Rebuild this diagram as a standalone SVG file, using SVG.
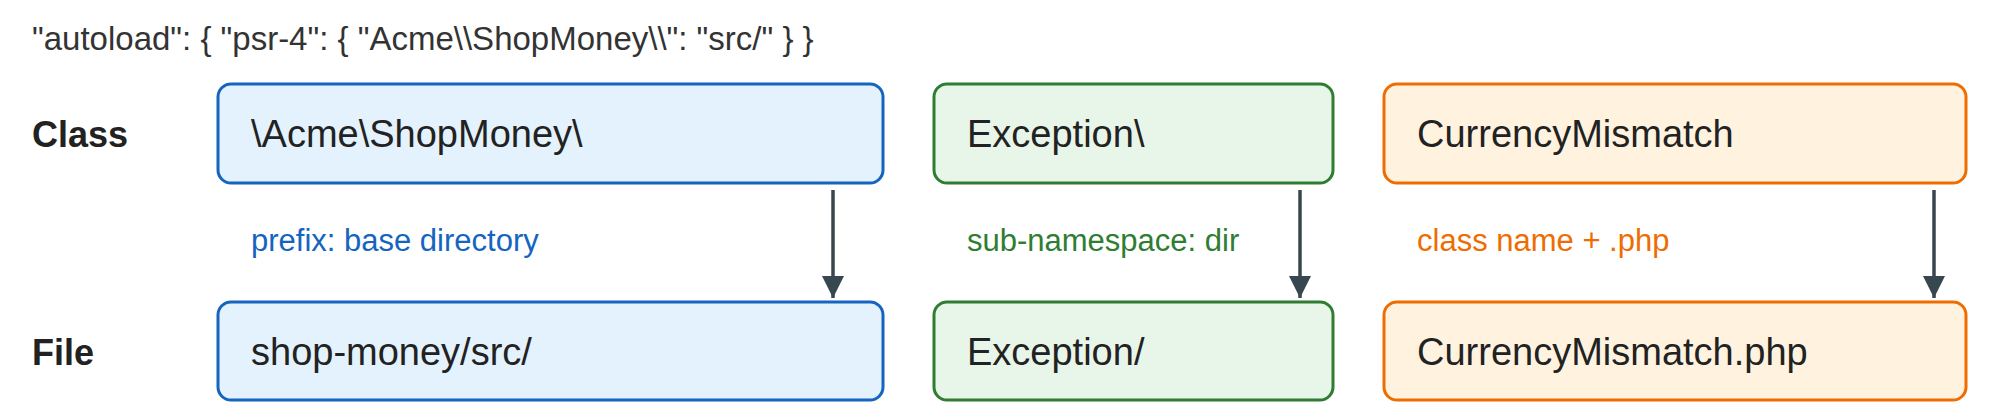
<svg xmlns="http://www.w3.org/2000/svg" width="2000" height="417" viewBox="0 0 2000 417">
<defs>
<style>
text{font-family:"Liberation Sans",Arial,sans-serif}
.t{font-size:33px;fill:#333}
.h{font-size:36px;font-weight:bold;fill:#222}
.n{font-size:38px;fill:#222}
.l{font-size:31px}
.b rect{fill:#e3f2fd;stroke:#1565c0;stroke-width:3}
.g rect{fill:#e8f5e9;stroke:#2e7d32;stroke-width:3}
.o rect{fill:#fff3e0;stroke:#ef6c00;stroke-width:3}
.c line{stroke:#37474f;stroke-width:3.5}
</style>
<marker id="m" viewBox="0 0 10 10" refX="10" refY="5" markerWidth="34" markerHeight="22" orient="auto" markerUnits="userSpaceOnUse">
<path d="M0,0 L10,5 L0,10 z" fill="#37474f"/>
</marker>
</defs>
<rect width="2000" height="417" fill="#fff"/>
<text class="t" x="32" y="50">"autoload": { "psr-4": { "Acme\\ShopMoney\\": "src/" } }</text>
<text class="h" x="32" y="147">Class</text>
<text class="h" x="32" y="365">File</text>
<g id="class-prefix" class="b"><rect x="218" y="84" width="665" height="99" rx="13"/><text class="n" x="251" y="147">\Acme\ShopMoney\</text></g>
<g id="class-sub" class="g"><rect x="934" y="84" width="399" height="99" rx="13"/><text class="n" x="967" y="147">Exception\</text></g>
<g id="class-name" class="o"><rect x="1384" y="84" width="582" height="99" rx="13"/><text class="n" x="1417" y="147">CurrencyMismatch</text></g>
<g id="file-prefix" class="b"><rect x="218" y="302" width="665" height="98" rx="13"/><text class="n" x="251" y="365">shop-money/src/</text></g>
<g id="file-sub" class="g"><rect x="934" y="302" width="399" height="98" rx="13"/><text class="n" x="967" y="365">Exception/</text></g>
<g id="file-name" class="o"><rect x="1384" y="302" width="582" height="98" rx="13"/><text class="n" x="1417" y="365">CurrencyMismatch.php</text></g>
<g id="connectors" class="c">
<line x1="833" y1="190" x2="833" y2="298" marker-end="url(#m)"/>
<line x1="1300" y1="190" x2="1300" y2="298" marker-end="url(#m)"/>
<line x1="1934" y1="190" x2="1934" y2="298" marker-end="url(#m)"/>
</g>
<text class="l" x="251" y="251" fill="#1565c0">prefix: base directory</text>
<text class="l" x="967" y="251" fill="#2e7d32">sub-namespace: dir</text>
<text class="l" x="1417" y="251" fill="#ef6c00">class name + .php</text>
</svg>
